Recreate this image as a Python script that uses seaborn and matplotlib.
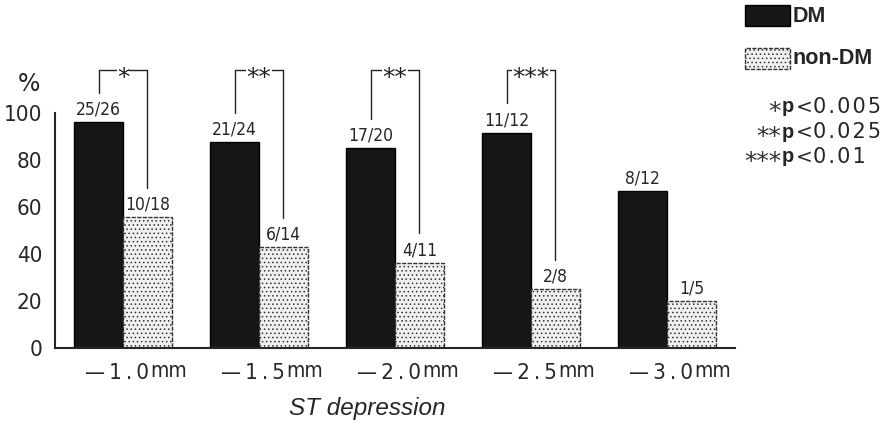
import matplotlib
matplotlib.use('Agg')
import matplotlib.pyplot as plt
import seaborn as sns
import pandas as pd
from matplotlib.patches import Rectangle

# data
depths = ['-1.0', '-1.5', '-2.0', '-2.5', '-3.0']
dm_frac = ['25/26', '21/24', '17/20', '11/12', '8/12']
non_frac = ['10/18', '6/14', '4/11', '2/8', '1/5']
stars = ['*', '**', '**', '***', '']
p_notes = ['*', '**', '***']
p_vals = ['0.005', '0.025', '0.01']


def pct(f):
    a, b = f.split('/')
    return 100.0 * int(a) / int(b)


df = pd.DataFrame({
    'depth': depths * 2,
    'pct': [pct(f) for f in dm_frac] + [pct(f) for f in non_frac],
    'group': ['DM'] * 5 + ['non-DM'] * 5,
})

sns.set_style('white')
plt.rcParams['font.family'] = ['DejaVu Sans']
plt.rcParams['font.stretch'] = 'condensed'
plt.rcParams['hatch.linewidth'] = 0.6

W, H = 886, 425
fig = plt.figure(figsize=(8.86, 4.25), dpi=100)
ax = fig.add_axes([55 / W, 1 - 348 / H, 680 / W, 293.75 / H])

sns.barplot(data=df, x='depth', y='pct', hue='group', ax=ax, width=0.72,
            palette={'DM': '#161616', 'non-DM': '#f0f0f0'},
            edgecolor='black', linewidth=1.0, saturation=1, legend=False)

for bar in ax.containers[1]:
    bar.set_hatch('....')
    bar.set_edgecolor('#333333')
    bar.set_linestyle((0, (3, 1)))
    if hasattr(bar, 'set_hatchcolor'):
        bar.set_hatchcolor('#b0b0b0')

ax.set_xlim(-0.5, 4.5)
ax.set_ylim(0, 125)
ax.spines['top'].set_visible(False)
ax.spines['right'].set_visible(False)
ax.spines['left'].set_bounds(0, 100)
ax.spines['left'].set_linewidth(1.5)
ax.spines['bottom'].set_linewidth(1.5)
ax.set_yticks([0, 20, 40, 60, 80, 100])
ax.tick_params(axis='y', direction='out', length=6, width=1.3, labelsize=16, pad=3)
ax.set_xticks([i - 0.5 for i in range(6)], minor=True)
ax.tick_params(axis='x', which='minor', direction='inout', length=10, width=1.3)
ax.set_xticks(range(5))
ax.set_xticklabels([])
ax.tick_params(axis='x', which='major', length=0)
ax.set_xlabel('')
ax.set_ylabel('')

# tick labels like "-1.0mm" with smaller mm
ts = '\u2009'
for i, d in enumerate(depths):
    num = '\u2014' + ts + ts.join(d[1:])
    ax.text(i + 0.19, -0.05, num, transform=ax.get_xaxis_transform(),
            ha='right', va='top', fontsize=16)
    ax.text(i + 0.2, -0.045, 'mm', transform=ax.get_xaxis_transform(),
            ha='left', va='top', fontsize=15)

fig.text(29 / W, 1 - 84 / H, '%', fontsize=17, ha='center', va='center',
         stretch='normal')
fig.text(367 / W, 1 - 408 / H, 'ST depression', ha='center', va='center',
         fontsize=17.5, style='italic', stretch='normal',
         family=['Liberation Sans', 'DejaVu Sans'])

off = 0.18
for i in range(5):
    y_dm = pct(dm_frac[i])
    y_non = pct(non_frac[i])
    ax.text(i - off, y_dm + 1.5, dm_frac[i], ha='center', va='bottom', fontsize=12.5)
    ax.text(i + off, y_non + 1.5, non_frac[i], ha='center', va='bottom', fontsize=12.5)
    if stars[i]:
        top = 118.3
        ax.plot([i - off, i - off, i + off, i + off],
                [y_dm + 12.5, top, top, y_non + 12.5], color='#222222', lw=1.0,
                clip_on=False)
        ax.text(i, top - 6.3, stars[i], ha='center', va='baseline',
                fontsize=18, stretch='normal', color='#222222',
                bbox=dict(facecolor='white', edgecolor='none', pad=0.2))
        # white box draws over the line; keep a tight gap like the scan
ax.set_zorder(1)

# legend
lab_font = ['Liberation Sans', 'DejaVu Sans']
fig.add_artist(Rectangle((745 / W, 1 - 26 / H), 45 / W, 21 / H,
                         transform=fig.transFigure, facecolor='#161616',
                         edgecolor='black'))
leg2 = Rectangle((745 / W, 1 - 69 / H), 45 / W, 21 / H,
                 transform=fig.transFigure, facecolor='#f0f0f0',
                 edgecolor='#333333', hatch='....', linestyle=(0, (3, 1)))
if hasattr(leg2, 'set_hatchcolor'):
    leg2.set_hatchcolor('#b0b0b0')
fig.add_artist(leg2)
fig.text(793 / W, 1 - 16 / H, 'DM', ha='left', va='center', fontsize=15.5,
         weight='bold', stretch='normal', family=lab_font)
fig.text(793 / W, 1 - 59 / H, 'non-DM', ha='left', va='center', fontsize=15.5,
         weight='bold', stretch='normal', family=lab_font)

# p-value notes, column aligned
hs = '\u200a'
for k, (s, p) in enumerate(zip(p_notes, p_vals)):
    yp = 107 + 25 * k
    y = 1 - yp / H
    fig.text(781 / W, 1 - (yp + 12) / H, s, ha='right', va='baseline', fontsize=18,
             stretch='normal', color='#333333')
    fig.text(782 / W, y, 'p', ha='left', va='center', fontsize=14.5,
             weight='bold', stretch='normal', family=lab_font)
    fig.text(796 / W, y, '<', ha='left', va='center', fontsize=14.5,
             stretch='normal')
    fig.text(813 / W, y, hs.join(p), ha='left', va='center', fontsize=15,
             stretch='normal')

fig.savefig('out.png', dpi=100)
